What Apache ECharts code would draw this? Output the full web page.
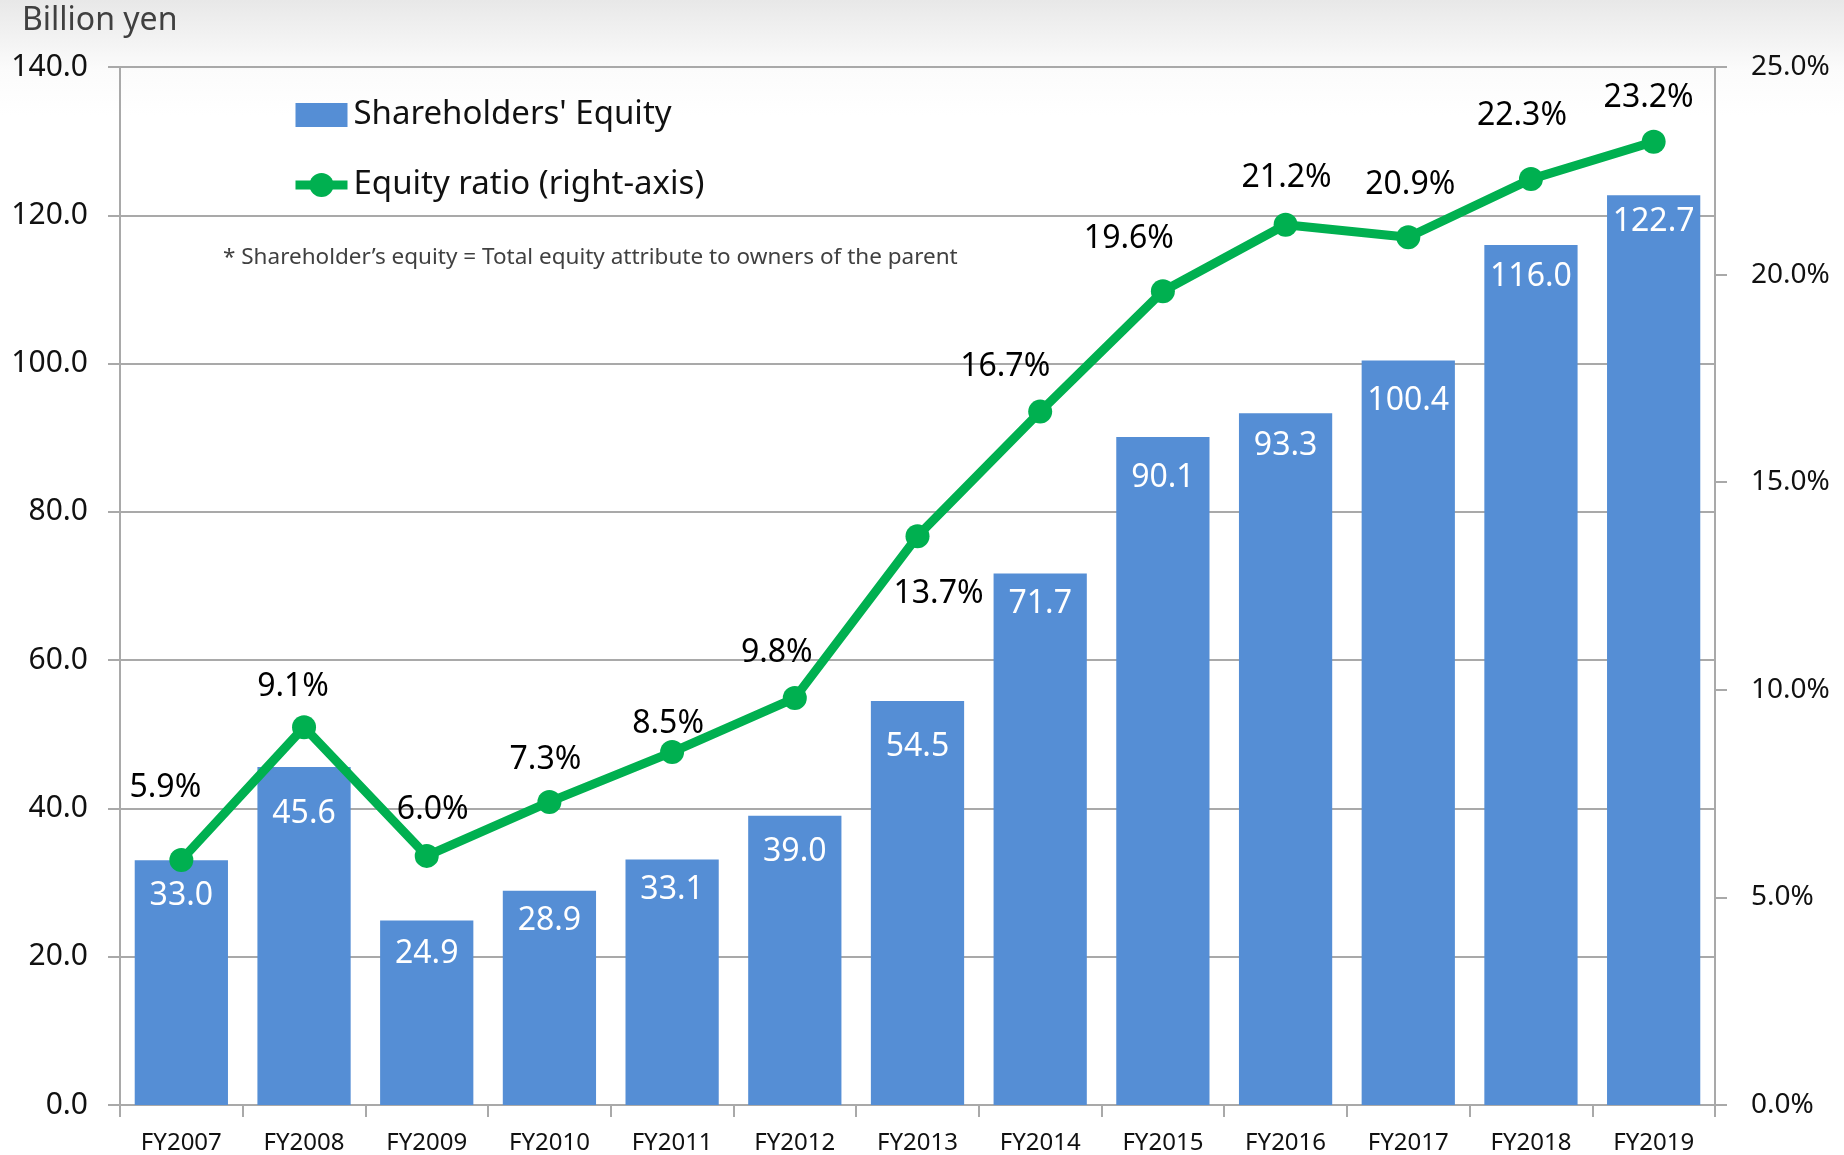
<!DOCTYPE html>
<html>
<head>
<meta charset="utf-8">
<title>Shareholders' Equity</title>
<script src="https://cdn.jsdelivr.net/npm/echarts@6/dist/echarts.min.js"></script>
<style>
  html, body { margin: 0; padding: 0; background: #fff; }
  #chart { width: 1844px; height: 1155px; }
</style>
</head>
<body>
<div id="chart"></div>
<script>
// data
var years = ['FY2007', 'FY2008', 'FY2009', 'FY2010', 'FY2011', 'FY2012', 'FY2013',
  'FY2014', 'FY2015', 'FY2016', 'FY2017', 'FY2018', 'FY2019']
var equity = [33.0, 45.6, 24.9, 28.9, 33.1, 39.0, 54.5, 71.7, 90.1, 93.3, 100.4, 116.0, 122.7]
var ratio = [5.9, 9.1, 6.0, 7.3, 8.5, 9.8, 13.7, 16.7, 19.6, 21.2, 20.9, 22.3, 23.2]

// label nudges (style only), Excel labels were dragged by hand
var barLabelDy = [18, 29, 16, 12, 12, 18, 28, 12, 23, 15, 22, 14, 9]
var lineLabelOff = [[-16, -72], [-11, -40], [6, -46], [-4, -42], [-4, -28], [-18, -45], [21, 58],
  [-35, -45], [-34, -52], [1, -47], [2, -52], [-9, -63], [-5, -44]]

var FONT = '"Noto Sans", "Open Sans", sans-serif'
var GRID_COLOR = '#a9a9a9'

var chart = echarts.init(document.getElementById('chart'))

var barData = equity.map(function (v, i) {
  return { value: v, label: { offset: [0, barLabelDy[i]] } }
})
var lineData = ratio.map(function (v, i) {
  return { value: v, label: { offset: lineLabelOff[i] } }
})

chart.setOption({
  animation: false,
  backgroundColor: {
    type: 'linear', x: 0, y: 0, x2: 0, y2: 1,
    colorStops: [
      { offset: 0, color: '#e8e8e8' },
      { offset: 0.06, color: '#fbfbfb' },
      { offset: 0.1, color: '#ffffff' },
      { offset: 1, color: '#ffffff' }
    ]
  },
  textStyle: { fontFamily: FONT },
  title: [{
    text: 'Billion yen',
    left: 17,
    top: 0,
    textStyle: { fontSize: 32, fontWeight: 'normal', color: '#404040', fontFamily: FONT }
  }, {
    text: '* Shareholder\u2019s equity = Total equity attribute to owners of the parent',
    left: 218,
    top: 241,
    textStyle: { fontSize: 22.5, fontWeight: 'normal', color: '#404040', fontFamily: FONT }
  }],
  legend: {
    orient: 'vertical',
    left: 286,
    top: 93,
    itemWidth: 52,
    itemHeight: 30,
    itemGap: 36,
    textStyle: { fontSize: 33, lineHeight: 34, color: '#111', fontFamily: FONT, padding: [0, 0, 0, 1] },
    data: [
      { name: "Shareholders' Equity", icon: 'path://M0,0H52V24H0Z' },
      { name: 'Equity ratio (right-axis)', lineStyle: { width: 9, color: '#00b050' } }
    ]
  },
  grid: { left: 120, right: 129, top: 67, bottom: 50 },
  xAxis: {
    type: 'category',
    data: years,
    axisLine: { lineStyle: { color: GRID_COLOR, width: 2 } },
    axisTick: { show: true, length: 12, lineStyle: { color: GRID_COLOR, width: 2 } },
    axisLabel: { fontSize: 24, color: '#111', margin: 26, fontFamily: FONT }
  },
  yAxis: [{
    type: 'value',
    min: 0,
    max: 140,
    interval: 20,
    axisLine: { show: true, lineStyle: { color: GRID_COLOR, width: 2 } },
    axisTick: { show: true, length: 12, lineStyle: { color: GRID_COLOR, width: 2 } },
    splitLine: { lineStyle: { color: GRID_COLOR, width: 2 } },
    axisLabel: {
      fontSize: 30, color: '#111', margin: 32, fontFamily: FONT,
      formatter: function (v) { return v.toFixed(1) }
    }
  }, {
    type: 'value',
    min: 0,
    max: 25,
    interval: 5,
    position: 'right',
    axisLine: { show: true, lineStyle: { color: GRID_COLOR, width: 2 } },
    axisTick: { show: true, length: 12, lineStyle: { color: GRID_COLOR, width: 2 } },
    splitLine: { show: false },
    axisLabel: {
      fontSize: 28, color: '#111', margin: 36, fontFamily: FONT,
      formatter: function (v) { return v.toFixed(1) + '%' }
    }
  }],
  series: [{
    name: "Shareholders' Equity",
    type: 'bar',
    data: barData,
    barCategoryGap: '24%',
    itemStyle: { color: '#558ed5' },
    label: {
      show: true,
      position: 'insideTop',
      distance: 0,
      fontSize: 32,
      lineHeight: 36,
      color: '#fff',
      fontFamily: FONT,
      formatter: function (p) { return p.value.toFixed(1) }
    },
    z: 2
  }, {
    name: 'Equity ratio (right-axis)',
    type: 'line',
    yAxisIndex: 1,
    data: lineData,
    symbol: 'circle',
    symbolSize: 24,
    lineStyle: { color: '#00b050', width: 9 },
    itemStyle: { color: '#00b050' },
    label: {
      show: true,
      position: 'inside',
      fontSize: 32,
      color: '#000',
      fontFamily: FONT,
      formatter: function (p) { return p.value.toFixed(1) + '%' }
    },
    z: 3
  }]
})
</script>
</body>
</html>
